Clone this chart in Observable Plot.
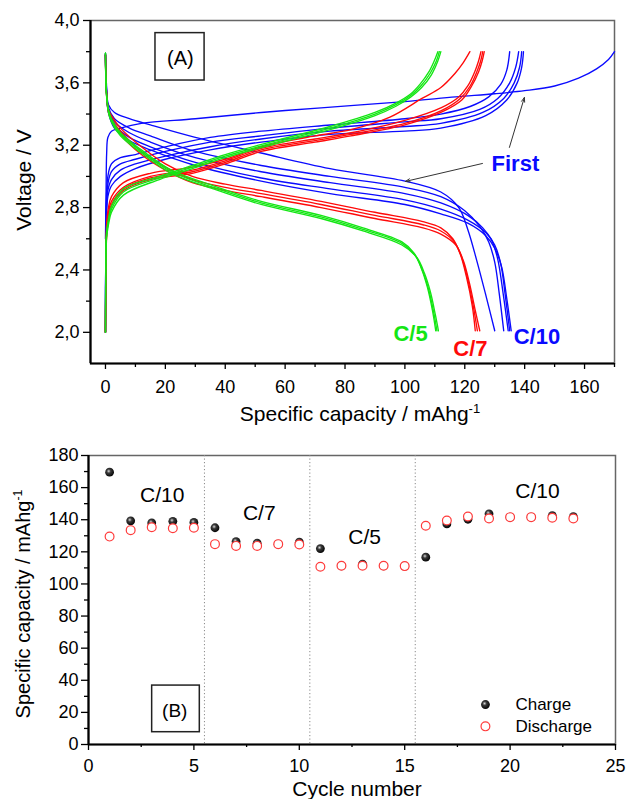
<!DOCTYPE html>
<html><head><meta charset="utf-8">
<script src="https://cdn.jsdelivr.net/npm/d3@7"></script>
<script src="https://cdn.jsdelivr.net/npm/@observablehq/plot@0.6"></script>
<style>
html,body{margin:0;padding:0;background:#fff;}
#chart{width:626px;height:799px;position:relative;overflow:hidden;background:#fff;}
#chart svg{display:block;}
</style></head><body><div id="chart"></div>
<script>
// ---------- Panel A: voltage profiles [capacity mAh/g, voltage V] ----------
const blueCharge1 = [[0,2.6],[0.2,2.9],[0.4,3.15],[0.8,3.25],[2,3.29],[5,3.31],[12,3.34],[30,3.37],[52,3.41],[72,3.44],[100,3.48],[117,3.51],[130,3.53],[140,3.55],[150,3.58],[158,3.63],[164,3.69],[168,3.75],[170,3.8]];
const blueCharge2 = [[0,2.0],[0.1,2.5],[0.3,2.85],[0.8,3.0],[2,3.08],[5,3.12],[10,3.14],[20,3.19],[35,3.25],[52,3.29],[75,3.33],[100,3.37],[112,3.40],[122,3.45],[128,3.51],[132,3.59],[134,3.68],[135,3.8]];
const blueCharge3 = [[0,2.0],[0.1,2.5],[0.3,2.8],[0.8,2.95],[2,3.03],[5,3.08],[10,3.11],[20,3.16],[35,3.22],[52,3.26],[75,3.31],[100,3.35],[112,3.37],[125,3.43],[131,3.5],[135,3.6],[137,3.7],[138,3.8]];
const blueCharge4 = [[0,2.0],[0.1,2.5],[0.3,2.76],[0.8,2.91],[2,2.98],[5,3.04],[10,3.08],[20,3.13],[35,3.19],[52,3.24],[75,3.29],[100,3.32],[112,3.34],[126,3.41],[133,3.5],[136.5,3.6],[138.3,3.7],[139,3.8]];
const blueCharge5 = [[0,2.0],[0.1,2.5],[0.3,2.72],[0.8,2.87],[2,2.94],[5,3.0],[10,3.05],[20,3.11],[35,3.17],[52,3.22],[75,3.27],[100,3.29],[112,3.31],[127,3.39],[134,3.49],[137.5,3.6],[139,3.7],[139.6,3.8]];
const blueDischarge1 = [[0,3.79],[0.3,3.6],[1,3.46],[3,3.41],[8,3.37],[15,3.33],[30,3.25],[52,3.15],[75,3.05],[100,2.97],[112,2.9],[118,2.8],[121,2.66],[124,2.46],[127,2.24],[130,2.01]];
const blueDischarge2 = [[0,3.78],[0.3,3.58],[1,3.44],[3,3.37],[8,3.31],[15,3.26],[30,3.16],[52,3.07],[75,3.0],[100,2.93],[112,2.87],[120,2.78],[125,2.68],[128,2.58],[130,2.45],[131.5,2.25],[133,2.01]];
const blueDischarge3 = [[0,3.78],[0.3,3.57],[1,3.43],[3,3.35],[8,3.28],[15,3.22],[30,3.12],[52,3.03],[75,2.96],[100,2.89],[112,2.83],[121,2.75],[126,2.67],[129,2.59],[131,2.47],[132.8,2.25],[134.5,2.01]];
const blueDischarge4 = [[0,3.78],[0.3,3.56],[1,3.42],[3,3.33],[8,3.25],[15,3.19],[30,3.09],[52,2.99],[75,2.92],[100,2.85],[112,2.79],[121,2.72],[127,2.64],[130,2.56],[132,2.44],[133.5,2.24],[135,2.01]];
const blueDischarge5 = [[0,3.78],[0.3,3.55],[1,3.41],[3,3.31],[8,3.23],[15,3.17],[30,3.07],[52,2.97],[75,2.89],[100,2.82],[112,2.76],[121,2.7],[127,2.62],[130,2.54],[132.3,2.42],[134,2.22],[135.5,2.01]];
const redCharge1 = [[0,2.0],[0.15,2.4],[0.4,2.7],[1,2.8],[2,2.87],[6,2.96],[15,3.02],[29,3.06],[40,3.11],[52,3.19],[70,3.26],[82,3.3],[95,3.38],[105.7,3.5],[112,3.57],[116.7,3.66],[119.5,3.73],[121.7,3.8]];
const redCharge2 = [[0,2.0],[0.15,2.4],[0.4,2.66],[1,2.77],[2,2.84],[6,2.93],[15,3.0],[29,3.04],[40,3.1],[52,3.18],[70,3.24],[82,3.28],[100,3.36],[112,3.44],[118,3.51],[121,3.58],[123.3,3.67],[124.6,3.74],[125.4,3.8]];
const redCharge3 = [[0,2.0],[0.15,2.4],[0.4,2.64],[1,2.75],[2,2.82],[6,2.92],[15,2.99],[29,3.03],[40,3.09],[52,3.17],[70,3.23],[82,3.27],[100,3.34],[112,3.42],[118.5,3.5],[121.8,3.58],[124,3.67],[125.3,3.74],[126,3.8]];
const redCharge4 = [[0,2.0],[0.15,2.4],[0.4,2.62],[1,2.73],[2,2.81],[6,2.91],[15,2.98],[29,3.02],[40,3.08],[52,3.16],[70,3.22],[82,3.26],[100,3.33],[112,3.41],[119,3.49],[122.3,3.58],[124.6,3.67],[125.8,3.74],[126.5,3.8]];
const redDischarge1 = [[0,3.78],[0.3,3.56],[1,3.43],[2,3.39],[5,3.31],[12,3.19],[20,3.08],[29,3.0],[40,2.95],[52,2.91],[72,2.84],[90,2.77],[106,2.71],[112,2.67],[116,2.6],[118.5,2.5],[120.5,2.36],[122.5,2.17],[123.5,2.01]];
const redDischarge2 = [[0,3.78],[0.3,3.55],[1,3.42],[2,3.37],[5,3.29],[12,3.16],[20,3.06],[29,2.98],[40,2.93],[52,2.89],[72,2.82],[90,2.75],[106,2.69],[112,2.65],[116.5,2.58],[119,2.48],[121,2.34],[123,2.15],[124.2,2.01]];
const redDischarge3 = [[0,3.78],[0.3,3.54],[1,3.41],[2,3.36],[5,3.27],[12,3.14],[20,3.04],[29,2.96],[40,2.91],[52,2.87],[72,2.80],[90,2.73],[106,2.67],[112,2.63],[117,2.56],[119.5,2.46],[121.5,2.32],[123.5,2.14],[125,2.01]];
const greenCharge1 = [[0,2.0],[0.1,2.4],[0.3,2.63],[1,2.73],[2,2.81],[6,2.92],[18,3.0],[29,3.07],[40,3.14],[55,3.22],[75,3.32],[90,3.41],[97,3.47],[102,3.53],[105,3.59],[108,3.67],[110,3.75],[111,3.8]];
const greenCharge2 = [[0,2.0],[0.1,2.4],[0.3,2.61],[1,2.71],[2,2.79],[6,2.9],[18,2.99],[29,3.06],[40,3.13],[55,3.21],[75,3.31],[90,3.4],[97,3.46],[102,3.52],[105.3,3.58],[108.4,3.66],[110.5,3.74],[111.5,3.8]];
const greenCharge3 = [[0,2.0],[0.1,2.4],[0.3,2.59],[1,2.69],[2,2.77],[6,2.88],[18,2.98],[29,3.05],[40,3.12],[55,3.2],[75,3.3],[90,3.39],[97,3.45],[102,3.51],[105.6,3.57],[108.8,3.65],[111,3.74],[112,3.8]];
const greenDischarge1 = [[0,3.79],[0.3,3.55],[1,3.43],[2,3.37],[5,3.28],[12,3.17],[22,3.04],[36,2.94],[52,2.84],[72,2.75],[86,2.67],[99,2.58],[103,2.51],[105.5,2.41],[107.5,2.29],[109.2,2.14],[110.3,2.01]];
const greenDischarge2 = [[0,3.79],[0.3,3.54],[1,3.42],[2,3.36],[5,3.27],[12,3.16],[22,3.03],[36,2.93],[52,2.83],[72,2.74],[86,2.66],[99,2.57],[103.5,2.49],[106,2.39],[108,2.27],[109.7,2.12],[110.7,2.01]];
const greenDischarge3 = [[0,3.79],[0.3,3.53],[1,3.41],[2,3.35],[5,3.26],[12,3.15],[22,3.02],[36,2.92],[52,2.82],[72,2.73],[86,2.65],[99,2.56],[104,2.48],[106.5,2.38],[108.5,2.26],[110.2,2.11],[111.2,2.01]];

const voltTicks = [2.0, 2.4, 2.8, 3.2, 3.6, 4.0];
const voltMinor = [2.2, 2.6, 3.0, 3.4, 3.8];
const capTicks = [0, 20, 40, 60, 80, 100, 120, 140, 160];
const capMinor = [10, 30, 50, 70, 90, 110, 130, 150, 170];
const rateLabelsA = [
  {label: "C/5", rate: "C/5", x: 101.9, v: 1.989},
  {label: "C/7", rate: "C/7", x: 121.9, v: 1.893},
  {label: "C/10", rate: "C/10", x: 144.1, v: 1.970}
];
const firstLabel = [{label: "First", x: 136.9, v: 3.080}];
const firstArrows = [
  {x1: 134.9, y1: 3.186, x2: 139.9, y2: 3.506},
  {x1: 125.9, y1: 3.083, x2: 100.2, y2: 2.968}
];
const boxA = [{x1: 16.7, x2: 33.1, y1: 3.615, y2: 3.919, label: "(A)", cx: 25.0, cy: 3.757}];

// ---------- Panel B: capacity vs cycle ----------
const cycles = [1,2,3,4,5,6,7,8,9,10,11,12,13,14,15,16,17,18,19,20,21,22,23];
const chargeCap = [169.6,139.3,138,139,138.3,135,126.4,125.4,124.8,126,122,111.3,112.4,111.3,111.1,116.7,137.4,140.3,143.7,141.6,141.6,142.6,141.9];
const dischargeCap = [129.5,133.5,135.3,134.7,135,124.8,123.7,123.7,124.8,124.6,110.7,111.3,111.3,111.3,111.1,136.2,139.5,142,140.8,141.6,141.6,141.2,140.8];
const rateSwitches = [5.5, 10.5, 15.5];
const cycTicks = [0, 5, 10, 15, 20, 25];
const cycMinor = [2.5, 7.5, 12.5, 17.5, 22.5];
const specTicks = [0, 20, 40, 60, 80, 100, 120, 140, 160, 180];
const specMinor = [10, 30, 50, 70, 90, 110, 130, 150, 170];
const rateLabelsB = [
  {label: "C/10", x: 3.5, y: 155.3},
  {label: "C/7", x: 8.1, y: 144.0},
  {label: "C/5", x: 13.1, y: 129.2},
  {label: "C/10", x: 21.3, y: 157.9}
];
const boxB = [{x1: 3.02, x2: 5.28, y1: 7.66, y2: 36.7, label: "(B)", cx: 4.09, cy: 21.2}];
const legendB = [
  {label: "Charge", kind: "charge", x: 18.83, y: 24.9},
  {label: "Discharge", kind: "discharge", x: 18.83, y: 11.3}
];

// ---------- build ----------
const FONT = "'Liberation Sans', Arial, Helvetica, sans-serif";
const rateColor = {"C/10": "#0a0aff", "C/7": "#ff0a0a", "C/5": "#14e614"};
const curvesA = [
  ["C/10", blueCharge1], ["C/10", blueCharge2], ["C/10", blueCharge3], ["C/10", blueCharge4], ["C/10", blueCharge5],
  ["C/10", blueDischarge1], ["C/10", blueDischarge2], ["C/10", blueDischarge3], ["C/10", blueDischarge4], ["C/10", blueDischarge5],
  ["C/7", redCharge1], ["C/7", redCharge2], ["C/7", redCharge3], ["C/7", redCharge4],
  ["C/7", redDischarge1], ["C/7", redDischarge2], ["C/7", redDischarge3],
  ["C/5", greenCharge1], ["C/5", greenCharge2], ["C/5", greenCharge3],
  ["C/5", greenDischarge1], ["C/5", greenDischarge2], ["C/5", greenDischarge3]
];
const rowsA = curvesA.flatMap(([rate, pts], i) => pts.map(([x, v]) => ({id: i, rate, color: rateColor[rate], x, v})));
const comma = d => d.toFixed(1).replace(".", ",");

const plotA = Plot.plot({
  width: 626, height: 430,
  marginTop: 20, marginRight: 12, marginBottom: 67, marginLeft: 90,
  x: {domain: [-5, 170]},
  y: {domain: [1.8, 4.0]},
  color: {type: "identity"},
  style: {fontFamily: FONT, fontSize: "18px", background: "white", color: "black", overflow: "visible"},
  marks: [
    Plot.frame({stroke: "#666", strokeWidth: 1.5}),
    Plot.line(rowsA, {x: "x", y: "v", z: "id", stroke: "color", strokeWidth: 1.35, curve: "catmull-rom"}),
    Plot.rect(boxA, {x1: "x1", x2: "x2", y1: "y1", y2: "y2", fill: "none", stroke: "#222", strokeWidth: 1.5}),
    Plot.text(boxA, {x: "cx", y: "cy", text: "label", fontSize: 20, fill: "black"}),
    Plot.text(rateLabelsA, {x: "x", y: "v", text: "label", fill: d => rateColor[d.rate], fontSize: 22, fontWeight: "bold"}),
    Plot.text(firstLabel, {x: "x", y: "v", text: "label", fill: rateColor["C/10"], fontSize: 22, fontWeight: "bold"}),
    Plot.arrow(firstArrows, {x1: "x1", y1: "y1", x2: "x2", y2: "y2", stroke: "#333", strokeWidth: 1, headLength: 7, headAngle: 40}),
    Plot.ruleX([-5], {stroke: "black", strokeWidth: 2.2}),
    Plot.ruleY([1.8], {stroke: "black", strokeWidth: 2.2}),
    Plot.axisY(voltTicks, {tickSize: 7, tickPadding: 4, tickFormat: comma, fontSize: 18, label: null, strokeWidth: 1.3}),
    Plot.axisY(voltMinor, {tickSize: 4, tickFormat: () => "", label: null, strokeWidth: 1.3}),
    Plot.axisX(capTicks, {tickSize: 6, tickPadding: 11, fontSize: 18, label: null, strokeWidth: 1.3}),
    Plot.axisX(capMinor, {tickSize: 4, tickFormat: () => "", label: null, strokeWidth: 1.3})
  ]
});

const plotB = Plot.plot({
  width: 626, height: 369,
  marginTop: 25, marginRight: 11, marginBottom: 55, marginLeft: 88,
  x: {domain: [0, 25]},
  y: {domain: [0, 180]},
  style: {fontFamily: FONT, fontSize: "17px", background: "white", color: "black", overflow: "visible"},
  marks: [
    Plot.frame({stroke: "#666", strokeWidth: 1.5}),
    Plot.ruleX(rateSwitches, {stroke: "#888", strokeWidth: 1, strokeDasharray: "1.2,2.3"}),
    Plot.dot(cycles, {x: d => d, y: (d, i) => chargeCap[i], r: 4.4, fill: "url(#sphereGrad)", stroke: "none"}),
    Plot.dot(cycles, {x: d => d, y: (d, i) => dischargeCap[i], r: 4.4, fill: "white", stroke: "#ff3b3b", strokeWidth: 1.2}),
    Plot.text(rateLabelsB, {x: "x", y: "y", text: "label", fontSize: 21, fill: "black"}),
    Plot.rect(boxB, {x1: "x1", x2: "x2", y1: "y1", y2: "y2", fill: "none", stroke: "#222", strokeWidth: 1.5}),
    Plot.text(boxB, {x: "cx", y: "cy", text: "label", fontSize: 19, fill: "black"}),
    Plot.dot(legendB.filter(d => d.kind === "charge"), {x: "x", y: "y", r: 4.4, fill: "url(#sphereGrad)", stroke: "none"}),
    Plot.dot(legendB.filter(d => d.kind === "discharge"), {x: "x", y: "y", r: 4.4, fill: "white", stroke: "#ff3b3b", strokeWidth: 1.2}),
    Plot.text(legendB, {x: "x", y: "y", text: "label", dx: 30, textAnchor: "start", fontSize: 17, fill: "black"}),
    Plot.ruleX([0], {stroke: "black", strokeWidth: 2.2}),
    Plot.ruleY([0], {stroke: "black", strokeWidth: 2.2}),
    Plot.axisY(specTicks, {tickSize: 7, tickPadding: 3, fontSize: 18, label: null, strokeWidth: 1.3}),
    Plot.axisY(specMinor, {tickSize: 4, tickFormat: () => "", label: null, strokeWidth: 1.3}),
    Plot.axisX(cycTicks, {tickSize: 6, tickPadding: 9, fontSize: 18, label: null, strokeWidth: 1.3}),
    Plot.axisX(cycMinor, {tickSize: 3, tickFormat: () => "", label: null, strokeWidth: 1.3})
  ]
});

const root = document.getElementById("chart");
root.appendChild(plotA);
root.appendChild(plotB);

// sphere gradient for the charge markers
const defs = d3.select(plotB).insert("defs", ":first-child");
const g = defs.append("radialGradient").attr("id", "sphereGrad").attr("cx", "40%").attr("cy", "38%").attr("r", "65%");
g.append("stop").attr("offset", "0").attr("stop-color", "#d8d8d8");
g.append("stop").attr("offset", "0.35").attr("stop-color", "#3a3a3a");
g.append("stop").attr("offset", "1").attr("stop-color", "#000");

// axis titles with superscripts
function title(svg, x, y, rot, size, main, sup) {
  const t = d3.select(svg).append("text")
    .attr("transform", `translate(${x},${y}) rotate(${rot})`)
    .attr("text-anchor", "middle").attr("font-family", FONT).attr("font-size", size).attr("fill", "black")
    .text(main);
  if (sup) t.append("tspan").attr("dy", -size * 0.38).attr("font-size", size * 0.62).text(sup);
}
title(plotA, 31, 180, -90, 21, "Voltage / V");
title(plotA, 360, 421, 0, 21, "Specific capacity / mAhg", "-1");
title(plotB, 30, 604 - 430, -90, 20, "Specific capacity / mAhg", "-1");
title(plotB, 357, 796 - 430, 0, 21, "Cycle number");
</script></body></html>
